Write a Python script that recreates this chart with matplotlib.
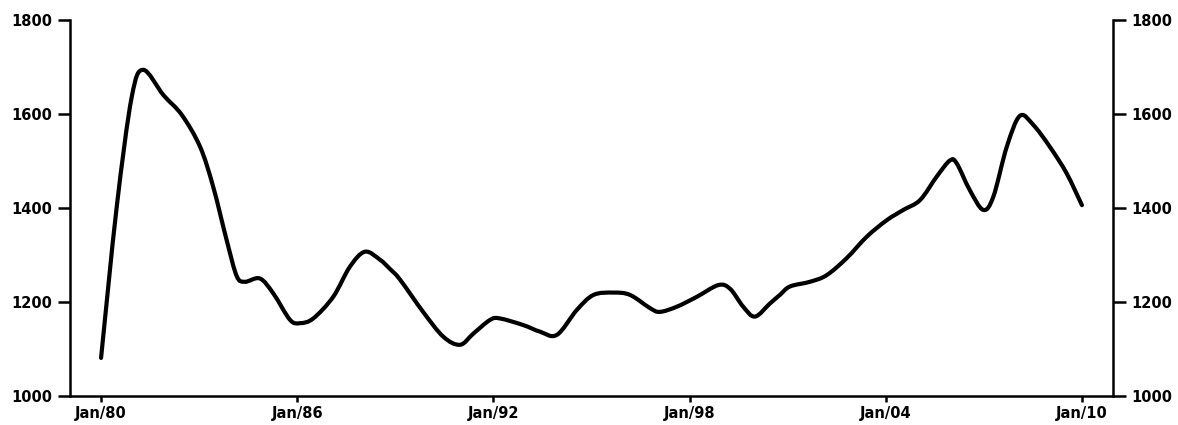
import matplotlib
matplotlib.use("Agg")
import matplotlib.pyplot as plt
import numpy as np
from matplotlib.path import Path
from matplotlib.patches import PathPatch

years = [1980.00, 1980.48, 1980.94, 1981.29, 1981.91, 1982.47, 1983.03, 1983.43,
         1983.84, 1984.15, 1984.40, 1984.86, 1985.27, 1985.78, 1986.09, 1986.49,
         1987.10, 1987.61, 1988.07, 1988.53, 1988.84, 1989.14, 1989.86, 1990.47,
         1990.98, 1991.39, 1991.90, 1992.20, 1992.91, 1993.42, 1993.94, 1994.55,
         1995.06, 1995.67, 1996.18, 1996.79, 1997.09, 1997.61, 1998.22, 1998.88,
         1999.24, 1999.64, 2000.00, 2000.46, 2000.76, 2001.07, 2001.68, 2002.19,
         2002.80, 2003.42, 2004.03, 2004.54, 2005.05, 2005.56, 2005.96, 2006.17,
         2006.57, 2006.98, 2007.29, 2007.70, 2008.10, 2008.51, 2009.02, 2009.53,
         2010.00]
values = [1081, 1403, 1637, 1694, 1640, 1598, 1530, 1445,
          1332, 1255, 1243, 1250, 1218, 1162, 1155, 1165,
          1211, 1275, 1307, 1290, 1270, 1248, 1178, 1126,
          1109, 1133, 1162, 1165, 1151, 1137, 1130, 1183,
          1215, 1220, 1215, 1187, 1179, 1190, 1211, 1236,
          1228, 1190, 1169, 1197, 1215, 1233, 1243, 1257,
          1293, 1339, 1374, 1396, 1417, 1467, 1501, 1495,
          1438, 1396, 1424, 1530, 1596, 1577, 1530, 1474,
          1406]

x_ticks = [1980, 1986, 1992, 1998, 2004, 2010]
x_labels = ["Jan/80", "Jan/86", "Jan/92", "Jan/98", "Jan/04", "Jan/10"]
y_ticks = [1000, 1200, 1400, 1600, 1800]

fig = plt.figure(figsize=(11.78, 4.25), dpi=100)
ax = fig.add_axes([70/1178, 1 - 396/425, (1113-70)/1178, (396-20)/425])

# smooth curve through the read points (Catmull-Rom rendered as cubic Bezier)
P = np.column_stack([years, values]).astype(float)
n = len(P)
verts = [P[0]]
codes = [Path.MOVETO]
for i in range(n - 1):
    p0 = P[i - 1] if i > 0 else P[i]
    p1 = P[i]
    p2 = P[i + 1]
    p3 = P[i + 2] if i + 2 < n else P[i + 1]
    c1 = p1 + (p2 - p0) / 6.0
    c2 = p2 - (p3 - p1) / 6.0
    verts += [c1, c2, p2]
    codes += [Path.CURVE4] * 3
ax.add_patch(PathPatch(Path(verts, codes), facecolor="none", edgecolor="black",
                       lw=3, joinstyle="round", capstyle="round"))

ax.set_xlim(1979.05, 2010.95)
ax.set_ylim(1000, 1800)
ax.spines["top"].set_visible(False)
for s in ["left", "right", "bottom"]:
    ax.spines[s].set_linewidth(1.8)
ax.set_xticks(x_ticks)
ax.set_xticklabels(x_labels)
ax.set_yticks(y_ticks)
ax.tick_params(axis="y", which="both", left=True, right=True, labelleft=True,
               labelright=True, length=9, width=1.8, pad=4, labelsize=10.5)
ax.tick_params(axis="x", length=4, width=1.8, pad=3, labelsize=10.5)
for lab in ax.get_xticklabels() + ax.get_yticklabels():
    lab.set_fontweight("bold")
for t in ax.yaxis.get_major_ticks():
    t.label2.set_fontweight("bold")
fig.savefig("out.png", dpi=100)
